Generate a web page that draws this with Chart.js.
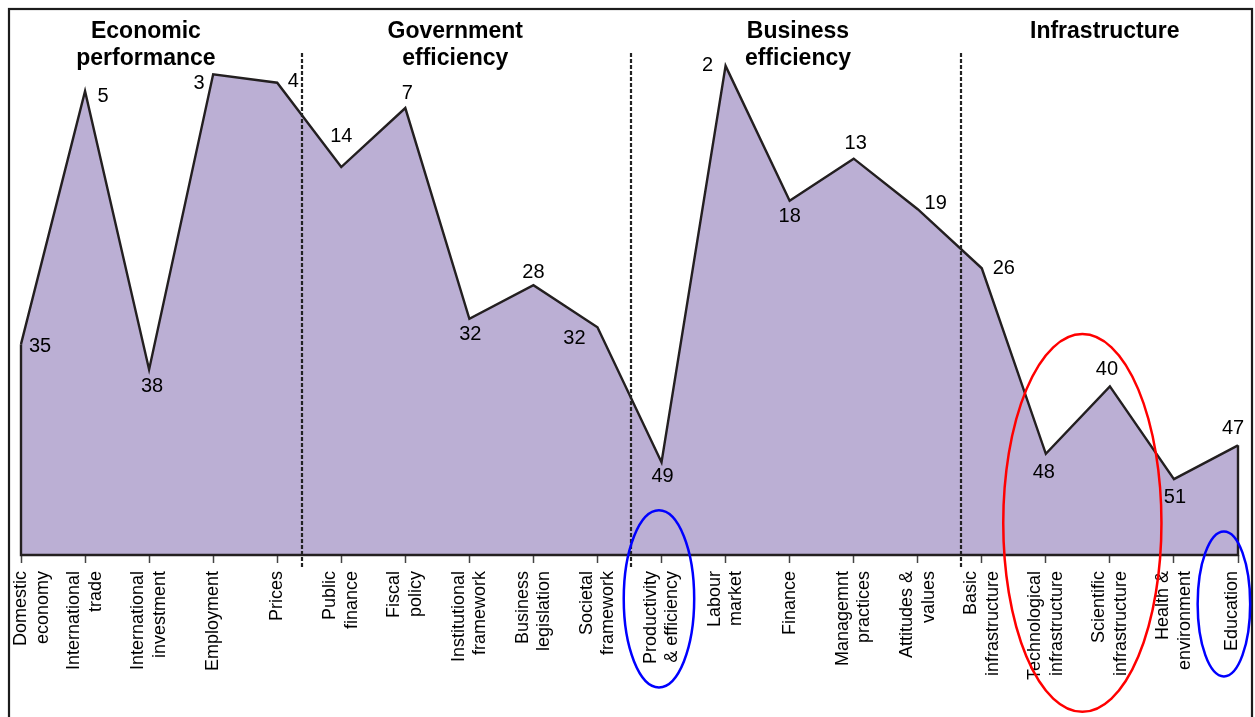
<!DOCTYPE html>
<html>
<head>
<meta charset="utf-8">
<script src="https://cdn.jsdelivr.net/npm/chart.js@4.4.1/dist/chart.umd.min.js"></script>
<style>
  html, body { margin: 0; padding: 0; background: #fff; }
  #wrap { width: 1255px; height: 717px; position: relative; }
</style>
</head>
<body>
<div id="wrap"><canvas id="c" width="1255" height="717"></canvas></div>
<script>
// ---------- data ----------
const categories = [
  ["Domestic", "economy"], ["International", "trade"], ["International", "investment"],
  ["Employment"], ["Prices"], ["Public", "finance"], ["Fiscal", "policy"],
  ["Institutional", "framework"], ["Business", "legislation"], ["Societal", "framework"],
  ["Productivity", "& efficiency"], ["Labour", "market"], ["Finance"],
  ["Managemnt", "practices"], ["Attitudes &", "values"], ["Basic", "infrastructure"],
  ["Technological", "infrastructure"], ["Scientific", "infrastructure"],
  ["Health &", "environment"], ["Education"]
];
const ranks = [35, 5, 38, 3, 4, 14, 7, 32, 28, 33, 49, 2, 18, 13, 19, 26, 48, 40, 51, 47];
const rankLabels = ["35", "5", "38", "3", "4", "14", "7", "32", "28", "32", "49", "2", "18", "13", "19", "26", "48", "40", "51", "47"];
const groupTitles = [["Economic", "performance"], ["Government", "efficiency"], ["Business", "efficiency"], ["Infrastructure"]];
const groupTitleAt = [1.95, 6.78, 12.13, 16.92];   // category-axis units
const dividerAt = [4.39, 9.52, 14.68];             // category-axis units
const rankMin = 0, rankMax = 60;

// ---------- presentation ----------
const labelOffsets = [
  [19, 2], [18, 5], [3, 17], [-14, 9], [16, -1], [0, -31], [2, -15], [1, 16], [0, -13], [-23, 11],
  [1, 14], [-18, 0], [0, 16], [2, -15], [18, -6], [22, 0], [-2, 19], [-3, -17], [1, 18], [-5, -17]
];
const ellipses = [
  { cx: 9.96, cy: 65.2, rx: 0.55, ry: 10.5, color: "#0000ff" },
  { cx: 18.78, cy: 65.8, rx: 0.41, ry: 8.6, color: "#0000ff" },
  { cx: 16.57, cy: 56.2, rx: 1.235, ry: 22.4, color: "#ff0000" }
];
const FONT = "'Liberation Sans', Arial, Helvetica, sans-serif";
const LINE = "#231f20";
const tickFontSize = 18, tickLH = 1.2;
const tickShift = categories.map((c, i) => (i > 0 && c.length > 1) ? -tickFontSize * tickLH / 2 : 0);
tickShift[categories.length - 1] = -6;

const overlay = {
  id: "overlay",
  beforeDraw(chart) {
    const items = chart.scales.x.getLabelItems();
    if (!items._shifted) {
      items.forEach((it, i) => { it.options.translation[0] += tickShift[i] || 0; });
      items._shifted = true;
    }
    const ctx = chart.ctx;
    ctx.save();
    ctx.strokeStyle = "#1c1c1c";
    ctx.lineWidth = 2.2;
    ctx.strokeRect(9, 9, 1243, 800);
    ctx.restore();
  },
  afterDatasetsDraw(chart) {
    const ctx = chart.ctx, xs = chart.scales.x, ys = chart.scales.y, ca = chart.chartArea;
    ctx.save();
    // dashed dividers
    ctx.strokeStyle = "#222";
    ctx.lineWidth = 2.2;
    ctx.setLineDash([4, 2]);
    dividerAt.forEach(v => {
      const x = Math.round(xs.getPixelForValue(v));
      ctx.beginPath();
      ctx.moveTo(x, ca.top + 4);
      ctx.lineTo(x, ca.bottom + 12);
      ctx.stroke();
    });
    ctx.setLineDash([]);
    // edges of the area
    const n = ranks.length;
    const x0 = xs.getPixelForValue(0), xn = xs.getPixelForValue(n - 1);
    const yb = ys.getPixelForValue(rankMax);
    ctx.strokeStyle = LINE;
    ctx.lineWidth = 2.4;
    ctx.lineJoin = "miter";
    ctx.beginPath();
    ctx.moveTo(x0, ys.getPixelForValue(ranks[0]));
    ctx.lineTo(x0, yb);
    ctx.lineTo(xn, yb);
    ctx.lineTo(xn, ys.getPixelForValue(ranks[n - 1]));
    ctx.stroke();
    // value labels
    ctx.fillStyle = "#000";
    ctx.font = "20px " + FONT;
    ctx.textAlign = "center";
    ctx.textBaseline = "middle";
    ranks.forEach((r, i) => {
      const px = xs.getPixelForValue(i) + labelOffsets[i][0];
      const py = ys.getPixelForValue(r) + labelOffsets[i][1];
      ctx.fillText(rankLabels[i], px, py);
    });
    // group titles
    ctx.font = "bold 23px " + FONT;
    ctx.textBaseline = "alphabetic";
    groupTitles.forEach((lines, g) => {
      const px = xs.getPixelForValue(groupTitleAt[g]);
      lines.forEach((t, k) => ctx.fillText(t, px, ca.top - 11 + k * 27));
    });
    // ellipses
    ctx.lineWidth = 2.5;
    ellipses.forEach(e => {
      const cx = xs.getPixelForValue(e.cx), cy = ys.getPixelForValue(e.cy);
      const rx = Math.abs(xs.getPixelForValue(e.cx + e.rx) - cx);
      const ry = Math.abs(ys.getPixelForValue(e.cy + e.ry) - cy);
      ctx.strokeStyle = e.color;
      ctx.beginPath();
      ctx.ellipse(cx, cy, rx, ry, 0, 0, Math.PI * 2);
      ctx.stroke();
    });
    ctx.restore();
  }
};

new Chart(document.getElementById("c"), {
  type: "line",
  data: {
    labels: categories,
    datasets: [{
      data: ranks,
      fill: { value: rankMax },
      backgroundColor: "#bbafd4",
      borderColor: LINE,
      borderWidth: 2.4,
      pointRadius: 0,
      tension: 0,
      borderJoinStyle: "miter"
    }]
  },
  options: {
    responsive: false,
    animation: false,
    devicePixelRatio: 1,
    layout: { padding: { left: 21, right: 17, top: 49, bottom: 0 } },
    plugins: { legend: { display: false }, tooltip: { enabled: false } },
    scales: {
      x: {
        type: "category",
        offset: false,
        grid: { display: true, drawOnChartArea: false, drawTicks: true, tickLength: 8, tickColor: "#444", tickWidth: 1.5 },
        border: { display: false },
        ticks: {
          autoSkip: false, maxRotation: 90, minRotation: 90, padding: 8,
          color: "#000", font: { family: FONT, size: tickFontSize, lineHeight: tickLH }
        },
        afterFit(scale) { scale.height = 162; scale.paddingLeft = 0; scale.paddingRight = 0; }
      },
      y: {
        display: false,
        reverse: true,
        min: rankMin,
        max: rankMax
      }
    }
  },
  plugins: [overlay]
});
</script>
</body>
</html>
